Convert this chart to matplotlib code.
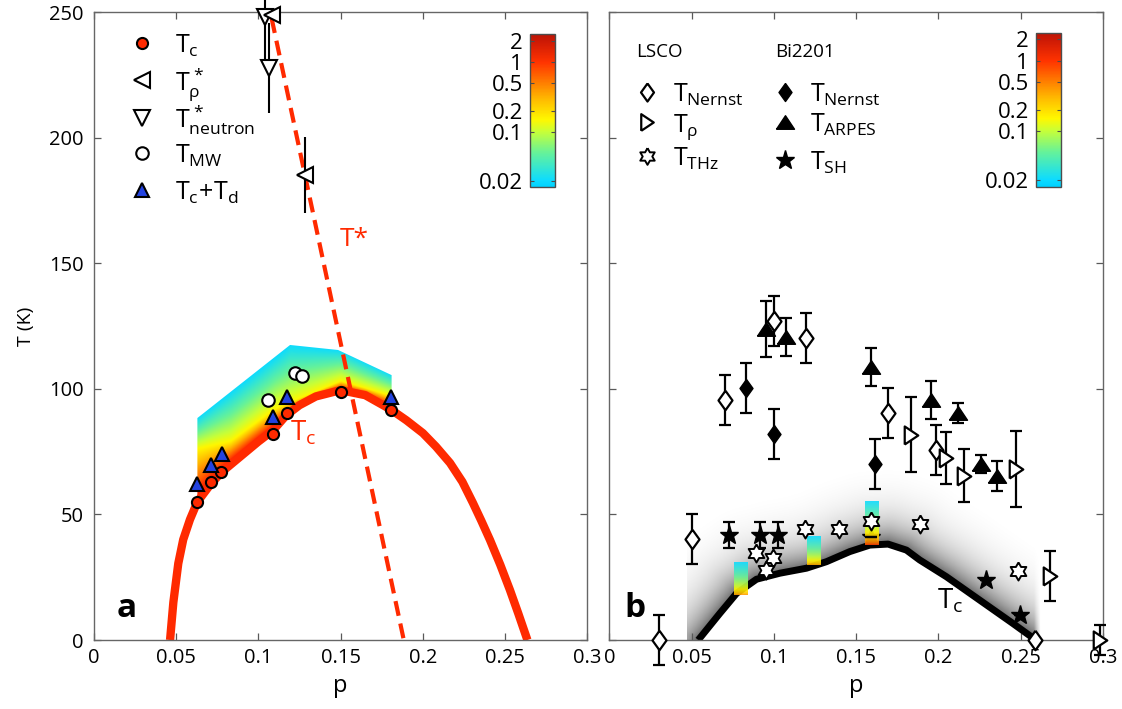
import numpy as np
import matplotlib
matplotlib.use("Agg")
import matplotlib.pyplot as plt
from matplotlib.colors import LinearSegmentedColormap, LogNorm
from matplotlib.patches import Polygon
from matplotlib.cm import ScalarMappable
from matplotlib.ticker import NullLocator

plt.rcParams['font.family'] = ['Open Sans', 'DejaVu Sans']
plt.rcParams['mathtext.fontset'] = 'custom'
plt.rcParams['mathtext.rm'] = 'Open Sans'
plt.rcParams['mathtext.it'] = 'Open Sans'
plt.rcParams['mathtext.bf'] = 'Open Sans:bold'

# ---------------- panel a data ----------------
tc_curve_p = [0.0464, 0.0484, 0.0514, 0.0544, 0.0585, 0.063, 0.071, 0.078, 0.089,
              0.1, 0.109, 0.117, 0.125, 0.135, 0.15, 0.165, 0.181, 0.19, 0.2,
              0.208, 0.2165, 0.224, 0.2304, 0.2355, 0.2408, 0.247, 0.2529, 0.258,
              0.2635]
tc_curve_T = [0, 15, 30.5, 40, 48, 55, 62, 67, 73, 79, 83.5, 89.5, 93.5, 97, 99.5,
              97.5, 91.6, 87.5, 82.4, 77, 70.5, 63, 54.6, 47.5, 39.8, 30, 19.9, 10.5,
              0]

tstar_line_p = [0.1081, 0.1884]
tstar_line_T = [247.6, 0]

tc_p = [0.063, 0.0711, 0.0773, 0.1091, 0.1174, 0.1503, 0.1806]
tc_T = [55.1, 62.8, 66.8, 82.0, 90.4, 98.8, 91.6]

tstar_rho_p = [0.1081, 0.1284]
tstar_rho_T = [249, 185.2]
tstar_rho_err = [0, 15]

tstar_n_p = [0.1041, 0.1067]
tstar_n_T = [248.2, 227.7]
tstar_n_err = [19, 18]

tmw_p = [0.1058, 0.1225, 0.1267]
tmw_T = [95.5, 106.4, 105.2]

tctd_p = [0.063, 0.0711, 0.0779, 0.1091, 0.1174, 0.1806]
tctd_T = [62.0, 69.7, 74.0, 89.0, 96.8, 96.6]

band_hi_p = [0.063, 0.1193, 0.1485, 0.181]
band_hi_T = [88.4, 117.5, 115.5, 105.5]
band_mid_p = [0.063, 0.083, 0.11, 0.15, 0.181]
band_mid_T = [76, 79, 92, 103, 97]

# ---------------- panel b data ----------------
tcb_p = [0.054, 0.0671, 0.0773, 0.0894, 0.1036, 0.1198, 0.132, 0.1461, 0.1583,
         0.1694, 0.1806, 0.1886, 0.2049, 0.2251, 0.2453, 0.2565, 0.2579]
tcb_T = [0, 10.6, 18.6, 24.2, 26.6, 28.6, 31.2, 35.2, 37.8, 38.2, 35.8, 31.9,
         25.2, 15.9, 6.6, 1.3, 0]

lsco_nernst_p = [0.0303, 0.0499, 0.0702, 0.0999, 0.1194, 0.1693, 0.1988, 0.2585]
lsco_nernst_T = [0, 40.1, 95.6, 127.2, 120.3, 90.4, 75.7, 0]
lsco_nernst_err = [10, 10, 10, 10, 10, 10, 10, 0]

lsco_rho_p = [0.1836, 0.2044, 0.2154, 0.247, 0.268, 0.2984]
lsco_rho_T = [81.8, 72.5, 65.5, 68.1, 25.5, 0]
lsco_rho_err = [15, 10.5, 10.5, 15, 10, 6]

lsco_thz_p = [0.089, 0.0993, 0.0949, 0.1188, 0.1394, 0.1593, 0.1891, 0.2482]
lsco_thz_T = [34.8, 32.8, 27.9, 44.2, 44.2, 47.5, 46.2, 27.5]

bi_nernst_p = [0.0829, 0.0999, 0.1617]
bi_nernst_T = [100.4, 82.0, 70.1]
bi_nernst_err = [10, 10, 10]

bi_arpes_p = [0.0951, 0.1072, 0.1593, 0.1957, 0.2117, 0.2261, 0.2354]
bi_arpes_T = [123.9, 120.7, 108.7, 95.6, 90.4, 70.1, 65.3]
bi_arpes_err = [11, 7.5, 7.5, 7.5, 3.8, 3.7, 6]

bi_sh_p = [0.0726, 0.0914, 0.1022, 0.1593, 0.2292, 0.2498]
bi_sh_T = [41.8, 41.8, 41.8, 41.1, 23.9, 10.0]
bi_sh_err = [5, 5, 5, 0, 0, 0]

bar_p0 = [0.0757, 0.1204, 0.1552]
bar_p1 = [0.0837, 0.1285, 0.1633]
bar_Tlo = [17.9, 29.9, 37.8]
bar_Thi = [30.8, 41.4, 55.1]
bar_base = [0.45, 0.4, 1.0]

cb_ticks = [0.02, 0.1, 0.2, 0.5, 1, 2]
cb_labels = ['0.02', '0.1', '0.2', '0.5', '1', '2']
x_ticks = [0, 0.05, 0.1, 0.15, 0.2, 0.25, 0.3]
x_labels = ['0', '0.05', '0.1', '0.15', '0.2', '0.25', '0.3']
y_ticks = [0, 50, 100, 150, 200, 250]

# ---------------- styles ----------------
red = '#ff2a00'
blue = '#2343e0'
cmap = LinearSegmentedColormap.from_list('sc', [
    (0.0, (0.0, 0.82, 1.0)), (0.044, (0.05, 0.86, 1.0)), (0.225, (0.4, 0.95, 0.6)),
    (0.363, (0.78, 1.0, 0.22)), (0.443, (1.0, 0.97, 0.0)), (0.58, (1.0, 0.72, 0.0)),
    (0.681, (1.0, 0.5, 0.0)), (0.819, (1.0, 0.2, 0.0)), (0.956, (0.8, 0.1, 0.02)),
    (1.0, (0.74, 0.08, 0.02))])
norm = LogNorm(0.016, 2.5)

diamond = [(0, 1), (0.72, 0), (0, -1), (-0.72, 0), (0, 1)]
tri_up = [(-1, -0.75), (1, -0.75), (0, 0.75), (-1, -0.75)]
tri_right = [(-0.75, -1), (0.75, 0), (-0.75, 1), (-0.75, -1)]
hexagram = []
for k in range(6):
    a_out = np.deg2rad(90 + 60 * k)
    a_in = a_out + np.deg2rad(30)
    hexagram.append((np.cos(a_out), np.sin(a_out)))
    hexagram.append((0.577 * np.cos(a_in), 0.577 * np.sin(a_in)))
hexagram.append(hexagram[0])

fig = plt.figure(figsize=(11.22, 7.09), dpi=100)
axa = fig.add_axes([0.0835, 0.0973, 0.4401, 0.8854])
axb = fig.add_axes([0.5432, 0.0973, 0.4397, 0.8854])

for ax in (axa, axb):
    ax.set_xlim(0, 0.3)
    ax.set_ylim(0, 250)
    ax.set_xticks(x_ticks)
    ax.set_xticklabels(x_labels)
    ax.set_yticks(y_ticks)
    ax.tick_params(direction='in', top=True, right=True, length=5, width=0.9,
                   color='0.35', labelsize=14.5, pad=6)
    ax.tick_params(axis='y', pad=7)
    for s in ax.spines.values():
        s.set_color('0.4')
        s.set_linewidth(1.0)
    ax.set_xlabel('p', fontsize=17, labelpad=4)
axb.tick_params(labelleft=False)
axa.set_ylabel('T (K)', fontsize=14, labelpad=10)

# ---------------- panel a ----------------
# coloured fluctuation band sitting on the Tc dome
gp = np.linspace(0.062, 0.182, 400)
gT = np.linspace(50, 120, 300)
P, TT = np.meshgrid(gp, gT)
lo = np.interp(P, tc_curve_p, tc_curve_T)
hi = np.interp(P, band_hi_p, band_hi_T)
mid = np.interp(P, band_mid_p, band_mid_T)
lv_lo, lv_mid, lv_hi = np.log10(1.8), np.log10(0.15), np.log10(0.02)
t1 = np.clip((TT - lo) / (mid - lo), 0, 1)
t2 = np.clip((TT - mid) / (hi - mid), 0, 1)
logv = np.where(TT < mid, lv_lo + t1 * (lv_mid - lv_lo), lv_mid + t2 * (lv_hi - lv_mid))
im = axa.imshow(10 ** logv, extent=[0.062, 0.182, 50, 120], origin='lower',
                aspect='auto', cmap=cmap, norm=norm, zorder=1, interpolation='bilinear')
lower = [(p, T) for p, T in zip(tc_curve_p, tc_curve_T) if 0.063 <= p <= 0.181]
upper = list(zip(band_hi_p, band_hi_T))[::-1]
band = Polygon(lower + upper, closed=True, transform=axa.transData,
               facecolor='none', edgecolor='none')
im.set_clip_path(band)

axa.plot(tc_curve_p, tc_curve_T, color=red, lw=6, solid_capstyle='butt',
         solid_joinstyle='round', zorder=2)
axa.plot(tstar_line_p, tstar_line_T, color=red, lw=3, dashes=(3.6, 1.9), zorder=2)

axa.errorbar(tstar_n_p, tstar_n_T, yerr=tstar_n_err, fmt='none', ecolor='k',
             elinewidth=1.5, capsize=0, zorder=3, clip_on=False)
axa.errorbar(tstar_rho_p, tstar_rho_T, yerr=tstar_rho_err, fmt='none', ecolor='k',
             elinewidth=1.5, capsize=0, zorder=3, clip_on=False)
axa.plot(tstar_n_p, tstar_n_T, 'v', ms=11, mfc='white', mec='k', mew=1.5,
         ls='none', zorder=4, clip_on=False)
axa.plot(tstar_rho_p, tstar_rho_T, '<', ms=11, mfc='white', mec='k', mew=1.5,
         ls='none', zorder=4, clip_on=False)
axa.plot(tmw_p, tmw_T, 'o', ms=9, mfc='white', mec='k', mew=1.5, ls='none', zorder=4)
axa.plot(tc_p, tc_T, 'o', ms=8, mfc=red, mec='k', mew=1.5, ls='none', zorder=4)
axa.plot(tctd_p, tctd_T, '^', ms=10.5, mfc=blue, mec='k', mew=1.5, ls='none', zorder=5)

axa.text(0.1496, 156.9, 'T*', color=red, fontsize=19, va='baseline')
axa.text(0.1193, 79.6, r'$T_c$', color=red, fontsize=20, va='baseline')
axa.text(0.014, 9, 'a', fontsize=24, fontweight='bold', va='baseline')

# legend of panel a
leg_a_y = [0.951, 0.892, 0.832, 0.776, 0.717]
leg_a_txt = [r'$T_c$', r'$T^*_\rho$', r'$T^*_{neutron}$', r'$T_{MW}$', r'$T_c\!+\!T_d$']
leg_a_sty = [dict(marker='o', ms=8, mfc=red), dict(marker='<', ms=11, mfc='white'),
             dict(marker='v', ms=11, mfc='white'), dict(marker='o', ms=9, mfc='white'),
             dict(marker='^', ms=10.5, mfc=blue)]
for y, txt, sty in zip(leg_a_y, leg_a_txt, leg_a_sty):
    axa.plot([0.097], [y], transform=axa.transAxes, mec='k', mew=1.5, ls='none',
             clip_on=False, zorder=6, **sty)
    axa.text(0.165, y - 0.016, txt, transform=axa.transAxes, fontsize=18, va='baseline')

# ---------------- panel b ----------------
# grey shading above the Tc line, fading with distance from it
gpb = np.linspace(0.0473, 0.262, 420)
gTb = np.linspace(0, 90, 260)
PB, TB = np.meshgrid(gpb, gTb)
tc_here = np.interp(PB, tcb_p, tcb_T)
seg_s = np.linspace(0, 1, 300)
cp = np.interp(seg_s, np.linspace(0, 1, len(tcb_p)), tcb_p)
cT = np.interp(seg_s, np.linspace(0, 1, len(tcb_T)), tcb_T)
dist = np.full(PB.shape, 1e9)
for a, b in zip(cp, cT):
    dist = np.minimum(dist, np.hypot((PB - a) * 1646, (TB - b) * 2.511))
alpha = np.clip(0.64 * np.exp(-dist / 21.0) - 0.015, 0, 1)
alpha = np.where(TB >= tc_here, alpha, 0.0)
# let the shade die out past the end of the line
alpha = alpha * np.clip((0.262 - PB) / 0.004, 0, 1)
rgba = np.zeros(PB.shape + (4,))
rgba[..., 3] = alpha
axb.imshow(rgba, extent=[0.0473, 0.262, 0, 90], origin='lower', aspect='auto',
           zorder=0.5, interpolation='bilinear')

axb.plot(tcb_p, tcb_T, color='k', lw=5, solid_capstyle='butt',
         solid_joinstyle='round', zorder=2)

axb.plot(bi_sh_p, bi_sh_T, '*', ms=14, mfc='k', mec='k', ls='none', zorder=2.5)

# small colour bars on the Tc line
for p0, p1, tlo, thi, vb in zip(bar_p0, bar_p1, bar_Tlo, bar_Thi, bar_base):
    s = np.linspace(0, 1, 120)[:, None]
    lv = np.log10(vb) + (np.log10(0.02) - np.log10(vb)) * s ** 0.6
    axb.imshow(10 ** lv, extent=[p0, p1, tlo, thi], origin='lower', aspect='auto',
               cmap=cmap, norm=norm, zorder=3, alpha=0.9)

eb = dict(fmt='none', ecolor='k', elinewidth=1.6, capsize=4.5, capthick=1.6, zorder=3.5)
axb.errorbar(lsco_nernst_p, lsco_nernst_T, yerr=lsco_nernst_err, clip_on=False, **eb)
axb.errorbar(lsco_rho_p, lsco_rho_T, yerr=lsco_rho_err, clip_on=False, **eb)
axb.errorbar(bi_nernst_p, bi_nernst_T, yerr=bi_nernst_err, **eb)
axb.errorbar(bi_arpes_p, bi_arpes_T, yerr=bi_arpes_err, **eb)
axb.errorbar(bi_sh_p, bi_sh_T, yerr=bi_sh_err, **eb)

axb.plot(lsco_nernst_p, lsco_nernst_T, marker=diamond, ms=14, mfc='white', mec='k',
         mew=1.6, ls='none', zorder=4, clip_on=False)
axb.plot(lsco_rho_p, lsco_rho_T, marker=tri_right, ms=13, mfc='white', mec='k',
         mew=1.6, ls='none', zorder=4, clip_on=False)
axb.plot(lsco_thz_p, lsco_thz_T, marker=hexagram, ms=13, mfc='white', mec='k',
         mew=1.4, ls='none', zorder=4)
axb.plot(bi_nernst_p, bi_nernst_T, marker=diamond, ms=13, mfc='k', mec='k',
         ls='none', zorder=4)
axb.plot(bi_arpes_p, bi_arpes_T, marker=tri_up, ms=13, mfc='k', mec='k',
         ls='none', zorder=4)

axb.text(0.199, 12.7, r'$T_c$', fontsize=20, va='baseline')
axb.text(0.009, 9, 'b', fontsize=24, fontweight='bold', va='baseline')

# legend of panel b
axb.text(0.055, 0.929, 'LSCO', transform=axb.transAxes, fontsize=13.5, va='baseline')
axb.text(0.3355, 0.929, 'Bi2201', transform=axb.transAxes, fontsize=13.5, va='baseline')
leg_b = [
    (0.0766, 0.1287, 0.8735, r'$T_{Nernst}$', dict(marker=diamond, ms=13, mfc='white', mew=1.6)),
    (0.0766, 0.1287, 0.8257, r'$T_\rho$', dict(marker=tri_right, ms=12, mfc='white', mew=1.6)),
    (0.0766, 0.1287, 0.771, r'$T_{THz}$', dict(marker=hexagram, ms=12, mfc='white', mew=1.4)),
    (0.3558, 0.4065, 0.8735, r'$T_{Nernst}$', dict(marker=diamond, ms=13, mfc='k')),
    (0.3558, 0.4065, 0.8257, r'$T_{ARPES}$', dict(marker=tri_up, ms=13, mfc='k')),
    (0.3558, 0.4065, 0.765, r'$T_{SH}$', dict(marker='*', ms=14, mfc='k')),
]
for xm, xt, y, txt, sty in leg_b:
    axb.plot([xm], [y], transform=axb.transAxes, mec='k', ls='none', clip_on=False,
             zorder=6, **sty)
    axb.text(xt, y - 0.016, txt, transform=axb.transAxes, fontsize=18, va='baseline')

# ---------------- colour bars ----------------
for rect in ([0.4724, 0.7358, 0.0223, 0.2158], [0.9234, 0.7367, 0.022, 0.2172]):
    cax = fig.add_axes(rect)
    cb = fig.colorbar(ScalarMappable(norm=norm, cmap=cmap), cax=cax, ticks=cb_ticks)
    cb.set_ticklabels(cb_labels)
    cax.yaxis.set_minor_locator(NullLocator())
    cax.tick_params(axis='y', which='both', direction='in', left=True, right=True,
                    labelleft=True, labelright=False, labelsize=16, length=3,
                    width=0.8, color='0.3', pad=5)
    cb.outline.set_edgecolor('0.3')
    cb.outline.set_linewidth(1.0)

fig.savefig('out.png', dpi=100)
